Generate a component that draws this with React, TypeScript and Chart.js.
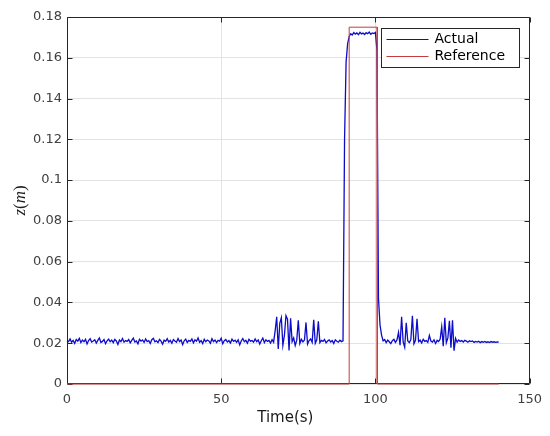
import React, { useEffect, useRef } from 'react';
import { Chart, registerables } from 'chart.js';

Chart.register(...registerables);

// ---------- data ----------
const SAMPLE_DT = 0.5; // seconds between samples of the measured signal

// measured height z (m), one sample every SAMPLE_DT seconds starting at t = 0
const actualZ: number[] = [
  // t 0 - 4.5
  0.0212, 0.0208, 0.0221, 0.0205, 0.0214, 0.0199, 0.0218, 0.0210, 0.0224, 0.0203,
  // t 5 - 9.5
  0.0215, 0.0207, 0.0219, 0.0196, 0.0213, 0.0222, 0.0206, 0.0211, 0.0217, 0.0201,
  // t 10 - 14.5
  0.0214, 0.0226, 0.0204, 0.0209, 0.0218, 0.0198, 0.0212, 0.0220, 0.0207, 0.0215,
  // t 15 - 19.5
  0.0203, 0.0219, 0.0211, 0.0194, 0.0216, 0.0208, 0.0223, 0.0205, 0.0213, 0.0209,
  // t 20 - 24.5
  0.0218, 0.0202, 0.0214, 0.0225, 0.0206, 0.0211, 0.0197, 0.0219, 0.0210, 0.0216,
  // t 25 - 29.5
  0.0204, 0.0221, 0.0208, 0.0213, 0.0199, 0.0217, 0.0224, 0.0207, 0.0212, 0.0203,
  // t 30 - 34.5
  0.0219, 0.0210, 0.0195, 0.0215, 0.0209, 0.0222, 0.0206, 0.0214, 0.0200, 0.0218,
  // t 35 - 39.5
  0.0211, 0.0205, 0.0223, 0.0208, 0.0216, 0.0193, 0.0212, 0.0220, 0.0204, 0.0214,
  // t 40 - 44.5
  0.0209, 0.0221, 0.0202, 0.0217, 0.0210, 0.0226, 0.0205, 0.0213, 0.0198, 0.0219,
  // t 45 - 49.5
  0.0207, 0.0215, 0.0211, 0.0200, 0.0222, 0.0208, 0.0216, 0.0203, 0.0214, 0.0210,
  // t 50 - 54.5
  0.0224, 0.0197, 0.0212, 0.0218, 0.0206, 0.0213, 0.0201, 0.0220, 0.0209, 0.0215,
  // t 55 - 59.5
  0.0204, 0.0217, 0.0192, 0.0211, 0.0223, 0.0207, 0.0214, 0.0200, 0.0219, 0.0210,
  // t 60 - 64.5
  0.0213, 0.0205, 0.0221, 0.0208, 0.0216, 0.0196, 0.0212, 0.0225, 0.0203, 0.0217,
  // t 65 - 66.5
  0.0209, 0.0214, 0.0201, 0.0218,
  // t 67 - 71.5
  0.0205, 0.0262, 0.0330, 0.0172, 0.0298, 0.0325, 0.0190, 0.0238, 0.0335, 0.0318,
  // t 72 - 76.5
  0.0165, 0.0322, 0.0208, 0.0226, 0.0189, 0.0215, 0.0312, 0.0198, 0.0219, 0.0207,
  // t 77 - 81.5
  0.0216, 0.0302, 0.0196, 0.0213, 0.0221, 0.0204, 0.0315, 0.0200, 0.0217, 0.0308,
  // t 82 - 86.5
  0.0203, 0.0214, 0.0209, 0.0218, 0.0202, 0.0211, 0.0216, 0.0206, 0.0213, 0.0199,
  // t 87 - 89.5
  0.0217, 0.0210, 0.0205, 0.0215, 0.0208, 0.0212,
  // t 90 - 94.5
  0.1200, 0.1580, 0.1670, 0.1705, 0.1718, 0.1712, 0.1724, 0.1716, 0.1722, 0.1713,
  // t 95 - 99.5
  0.1725, 0.1717, 0.1721, 0.1714, 0.1723, 0.1718, 0.1726, 0.1715, 0.1722, 0.1719,
  // t 100 - 104.5
  0.1724, 0.1640, 0.0420, 0.0290, 0.0240, 0.0212, 0.0218, 0.0203, 0.0215, 0.0207,
  // t 105 - 109.5
  0.0198, 0.0212, 0.0219, 0.0204, 0.0216, 0.0253, 0.0190, 0.0330, 0.0206, 0.0180,
  // t 110 - 114.5
  0.0300, 0.0211, 0.0203, 0.0218, 0.0335, 0.0197, 0.0214, 0.0320, 0.0208, 0.0215,
  // t 115 - 119.5
  0.0201, 0.0219, 0.0209, 0.0213, 0.0204, 0.0238, 0.0211, 0.0206, 0.0217, 0.0199,
  // t 120 - 124.5
  0.0214, 0.0208, 0.0220, 0.0280, 0.0185, 0.0325, 0.0202, 0.0226, 0.0310, 0.0178,
  // t 125 - 129.5
  0.0312, 0.0163, 0.0224, 0.0205, 0.0216, 0.0209, 0.0213, 0.0206, 0.0214, 0.0210,
  // t 130 - 134.5
  0.0205, 0.0212, 0.0208, 0.0211, 0.0204, 0.0209, 0.0206, 0.0210, 0.0203, 0.0208,
  // t 135 - 139.5
  0.0205, 0.0209, 0.0204, 0.0207, 0.0203, 0.0208, 0.0205, 0.0207, 0.0204, 0.0206,
  // t 140
  0.0205,
];

// reference (setpoint) signal, as corner points
const refTime: number[] = [0, 91.5, 91.5, 100.6, 100.6, 140];
const refZ: number[] = [0, 0, 0.175, 0.175, 0, 0];

const seriesLabels: string[] = ['Actual', 'Reference'];
const seriesColors: string[] = ['#0c0cca', '#c43c3c'];

const xTicks: number[] = [0, 50, 100, 150];
const yTicks: number[] = [0, 0.02, 0.04, 0.06, 0.08, 0.1, 0.12, 0.14, 0.16, 0.18];
const xAxisTitle = 'Time(s)';
const yAxisTitle = 'z(m)';

// ---------- styling ----------
const SANS = '"DejaVu Sans", "Liberation Sans", sans-serif';
const SERIF = '"Liberation Serif", "DejaVu Serif", serif';
const FRAME = '#262626';
const GRID = '#e3e3e3';
const TICK_TEXT = '#404040';

export default function App() {
  const canvasRef = useRef<HTMLCanvasElement | null>(null);

  useEffect(() => {
    const canvas = canvasRef.current;
    if (!canvas) return;

    const matlabPlugin = {
      id: 'matlabLook',
      beforeDatasetsDraw(chart: any) {
        const { ctx, chartArea: a, scales } = chart;
        const L = Math.round(a.left) + 0.5;
        const R = Math.round(a.right) - 0.5;
        const T = Math.round(a.top) + 0.5;
        const B = Math.round(a.bottom) - 0.5;
        ctx.save();
        ctx.strokeStyle = FRAME;
        ctx.lineWidth = 1;
        ctx.beginPath();
        ctx.rect(L, T, R - L, B - T);
        // inward tick marks
        const tl = 5;
        for (const v of yTicks) {
          const py = Math.round(scales.y.getPixelForValue(v)) + 0.5;
          ctx.moveTo(L, py);
          ctx.lineTo(L + tl, py);
          ctx.moveTo(R, py);
          ctx.lineTo(R - tl, py);
        }
        for (const v of xTicks) {
          const px = Math.round(scales.x.getPixelForValue(v)) + 0.5;
          ctx.moveTo(px, B);
          ctx.lineTo(px, B - tl);
          ctx.moveTo(px, T);
          ctx.lineTo(px, T + tl);
        }
        ctx.stroke();
        ctx.restore();
      },
      afterDraw(chart: any) {
        const { ctx, chartArea: a } = chart;
        ctx.save();

        // x-axis title
        ctx.fillStyle = '#1a1a1a';
        ctx.font = `15px ${SANS}`;
        ctx.textAlign = 'center';
        ctx.textBaseline = 'middle';
        ctx.fillText(xAxisTitle, a.left + (a.right - a.left) * 0.472, a.bottom + 34);

        // y-axis title (math style: italic letters, upright parentheses)
        const cy = (a.top + a.bottom) / 2;
        ctx.translate(21, cy);
        ctx.rotate(-Math.PI / 2);
        ctx.textAlign = 'left';
        ctx.textBaseline = 'middle';
        const parts = yAxisTitle.split('').map((c) => ({
          c,
          font: /[a-zA-Z]/.test(c) ? `italic 17px ${SERIF}` : `17px ${SERIF}`,
        }));
        let total = 0;
        for (const p of parts) {
          ctx.font = p.font;
          total += ctx.measureText(p.c).width;
        }
        let x0 = -total / 2;
        for (const p of parts) {
          ctx.font = p.font;
          ctx.fillText(p.c, x0, 0);
          x0 += ctx.measureText(p.c).width;
        }
        ctx.setTransform(1, 0, 0, 1, 0, 0);
        ctx.restore();

        // legend box
        ctx.save();
        const bw = 138;
        const bh = 39;
        const bx = Math.round(a.right - 11 - bw) + 0.5;
        const by = Math.round(a.top + 11) + 0.5;
        ctx.fillStyle = '#ffffff';
        ctx.fillRect(bx, by, bw, bh);
        ctx.strokeStyle = FRAME;
        ctx.lineWidth = 1;
        ctx.strokeRect(bx, by, bw, bh);
        ctx.font = `14px ${SANS}`;
        ctx.textAlign = 'left';
        ctx.textBaseline = 'middle';
        chart.data.datasets.forEach((ds: any) => {
          const idx = seriesLabels.indexOf(ds.label);
          const ly = by + 11 + idx * 17;
          ctx.strokeStyle = ds.borderColor;
          ctx.lineWidth = 1;
          ctx.beginPath();
          ctx.moveTo(bx + 5, ly);
          ctx.lineTo(bx + 47, ly);
          ctx.stroke();
          ctx.fillStyle = '#000000';
          ctx.fillText(ds.label, bx + 53, ly);
        });
        ctx.restore();
      },
    };

    const chart = new Chart(canvas, {
      type: 'scatter',
      data: {
        datasets: [
          {
            label: seriesLabels[0],
            data: actualZ.map((z, i) => ({ x: i * SAMPLE_DT, y: z })),
            showLine: true,
            borderColor: seriesColors[0],
            backgroundColor: seriesColors[0],
            borderWidth: 1.3,
            pointRadius: 0,
            order: 1,
            clip: false as any,
          },
          {
            label: seriesLabels[1],
            data: refTime.map((t, i) => ({ x: t, y: refZ[i] })),
            showLine: true,
            borderColor: seriesColors[1],
            backgroundColor: seriesColors[1],
            borderWidth: 1,
            pointRadius: 0,
            order: 0,
            clip: false as any,
          },
        ],
      },
      options: {
        animation: false,
        responsive: false,
        events: [],
        layout: { padding: { top: 17, right: 18, left: 0, bottom: 0 } },
        plugins: {
          legend: { display: false },
          tooltip: { enabled: false },
        },
        scales: {
          x: {
            type: 'linear',
            min: xTicks[0],
            max: xTicks[xTicks.length - 1],
            afterBuildTicks: (s: any) => {
              s.ticks = xTicks.map((v) => ({ value: v }));
            },
            afterFit: (s: any) => {
              s.height = 52;
            },
            ticks: {
              font: { family: SANS, size: 13 },
              color: TICK_TEXT,
              padding: 8,
              maxRotation: 0,
              autoSkip: false,
              callback: (v: any) => String(v),
            },
            grid: { color: GRID, lineWidth: 1, drawTicks: false },
            border: { display: false },
          },
          y: {
            type: 'linear',
            min: yTicks[0],
            max: yTicks[yTicks.length - 1],
            afterBuildTicks: (s: any) => {
              s.ticks = yTicks.map((v) => ({ value: v }));
            },
            afterFit: (s: any) => {
              s.width = 67;
            },
            ticks: {
              font: { family: SANS, size: 13 },
              color: TICK_TEXT,
              padding: 5,
              autoSkip: false,
              callback: (v: any) => String(Number(Number(v).toFixed(2))),
            },
            grid: { color: GRID, lineWidth: 1, drawTicks: false },
            border: { display: false },
          },
        },
      },
      plugins: [matlabPlugin],
    } as any);

    return () => chart.destroy();
  }, []);

  return (
    <div style={{ position: 'absolute', left: 0, top: 0, width: 550, height: 436, background: '#ffffff' }}>
      <canvas ref={canvasRef} width={550} height={436} style={{ display: 'block', width: 550, height: 436 }} />
    </div>
  );
}
